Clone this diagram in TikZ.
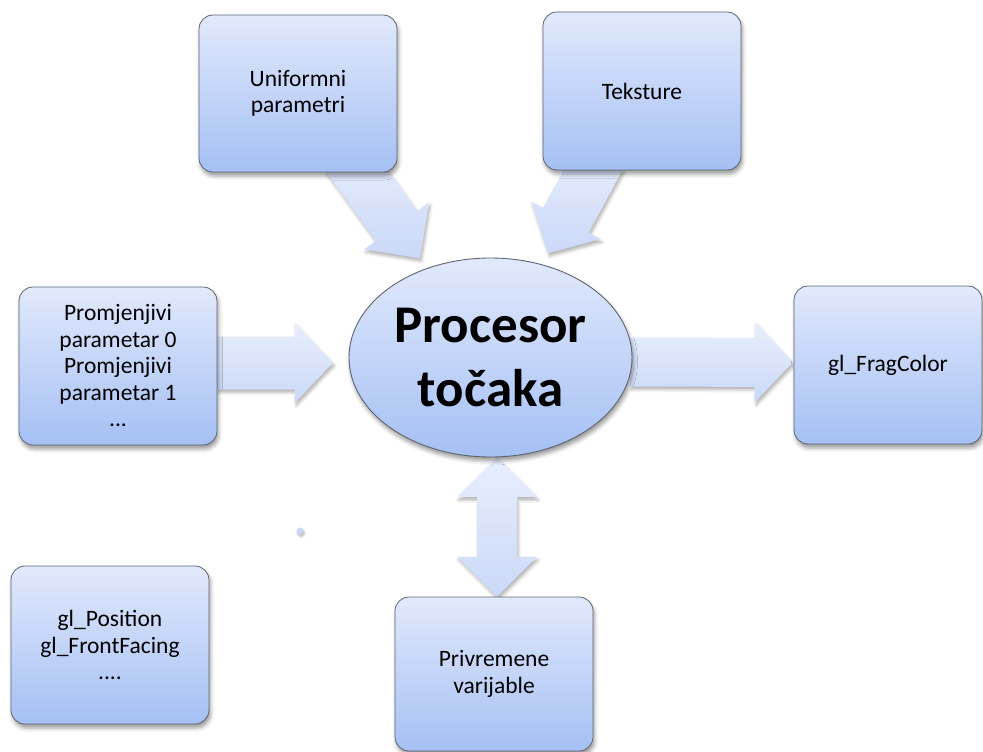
\documentclass[tikz,border=0pt]{standalone}
\usepackage{fontspec}
\setmainfont{Carlito}
\usetikzlibrary{calc,shapes.geometric,shadows.blur}

\definecolor{boxtop}{HTML}{E1E9FC}
\definecolor{boxbot}{HTML}{A5C0F4}
\definecolor{edgegray}{HTML}{5E6570}
\definecolor{arrtop}{HTML}{E8EEFD}
\definecolor{arrbot}{HTML}{CAD9F8}

\tikzset{
  softshadow/.style={blur shadow={shadow xshift=1.5pt, shadow yshift=-4pt,
      shadow blur radius=4pt, shadow opacity=40}},
  box/.style={draw=edgegray, line width=0.8pt, rounded corners=14pt,
      top color=boxtop, bottom color=boxbot, minimum width=198pt,
      minimum height=157pt, align=center, inner sep=2pt,
      font=\fontsize{23.5}{26.5}\selectfont, softshadow},
  procnode/.style={ellipse, draw=edgegray, line width=0.9pt,
      top color=boxtop, bottom color=boxbot, minimum width=283pt,
      minimum height=199pt, inner sep=0pt, align=center,
      font=\bfseries\fontsize{53}{64}\selectfont, softshadow},
  arrowfill/.style={draw=none, top color=arrtop, bottom color=arrbot,
      blur shadow={shadow xshift=1.5pt, shadow yshift=-3pt,
      shadow blur radius=3pt, shadow opacity=30}},
}

% block arrow: #1 tail, #2 tip, #3 shaft half width, #4 head half width, #5 head length
\newcommand{\blkarrow}[5]{%
  \coordinate (ab) at ($(#2)!#5!(#1)$);
  \path[arrowfill] ($(#1)!#3!90:(#2)$) -- ($(ab)!#3!90:(#2)$)
    -- ($(ab)!#4!90:(#2)$) -- (#2) -- ($(ab)!#4!-90:(#2)$)
    -- ($(ab)!#3!-90:(#2)$) -- ($(#1)!#3!-90:(#2)$) -- cycle;
}
% double headed block arrow between tips #1 and #2
\newcommand{\dblarrow}[5]{%
  \coordinate (da) at ($(#1)!#5!(#2)$);
  \coordinate (db) at ($(#2)!#5!(#1)$);
  \path[arrowfill] (#1) -- ($(da)!#4!90:(#1)$) -- ($(da)!#3!90:(#1)$)
    -- ($(db)!#3!-90:(#2)$) -- ($(db)!#4!-90:(#2)$) -- (#2)
    -- ($(db)!#4!90:(#2)$) -- ($(db)!#3!90:(#2)$)
    -- ($(da)!#3!-90:(#1)$) -- ($(da)!#4!-90:(#1)$) -- cycle;
}

\begin{document}
\begin{tikzpicture}[x=1pt,y=-1pt]
  \useasboundingbox (0,0) rectangle (983,752);

  % centres of the shapes
  \path
    (298,93.5)  coordinate (uniC)
    (642,91)    coordinate (texC)
    (118,366)   coordinate (promC)
    (888,365)   coordinate (fragC)
    (110,645)   coordinate (posC)
    (494,674)   coordinate (privC)
    (490.5,357.5) coordinate (procC);

  % invisible outlines used as anchors for the connectors
  \path
    (uniC)  node[minimum width=198pt, minimum height=157pt, inner sep=0pt] (uniA) {}
    (texC)  node[minimum width=198pt, minimum height=158pt, inner sep=0pt] (texA) {}
    (promC) node[minimum width=198pt, minimum height=158pt, inner sep=0pt] (promA) {}
    (fragC) node[minimum width=188pt, minimum height=158pt, inner sep=0pt] (fragA) {}
    (privC) node[minimum width=198pt, minimum height=154pt, inner sep=0pt] (privA) {}
    (procC) node[ellipse, minimum width=283pt, minimum height=199pt, inner sep=0pt] (procA) {};

  % connector end points
  \coordinate (t1) at ($(uniA.south)+(48,-16)$);
  \coordinate (h1) at ($(procA.north)+(-70.5,0.5)$);
  \coordinate (t2) at ($(texA.south)+(-42,-13)$);
  \coordinate (h2) at ($(procA.north)+(57.5,-4.5)$);
  \coordinate (t3) at ($(promA.east)+(0,-3)$);
  \coordinate (h3) at ($(procA.west)+(-16,5.5)$);
  \coordinate (t4) at ($(procA.east)+(-2,4.5)$);
  \coordinate (h4) at ($(fragA.west)+(-1,-2.5)$);
  \coordinate (d1) at ($(procA.south)+(6.5,0)$);
  \coordinate (d2) at ($(privA.north)+(3,0)$);

  % block arrows (behind the boxes)
  \blkarrow{t1}{h1}{25.5pt}{40pt}{40pt}
  \blkarrow{t2}{h2}{26pt}{39.5pt}{37.5pt}
  \blkarrow{t3}{h3}{26.5pt}{40pt}{38pt}
  \blkarrow{t4}{h4}{24.5pt}{40pt}{38pt}
  \dblarrow{d1}{d2}{20pt}{40pt}{40pt}

  % small stray mark
  \fill[boxtop!60!boxbot, blur shadow={shadow xshift=1pt, shadow yshift=-2pt,
      shadow blur radius=2pt, shadow opacity=30}] (300,531) circle (3.5pt);

  % boxes
  \node[box] (uni) at (uniC) {Uniformni\\parametri};
  \node[box, minimum height=158pt] (tex) at (texC) {Teksture};
  \node[box, minimum height=158pt] (prom) at (promC)
    {Promjenjivi\\parametar 0\\Promjenjivi\\parametar 1\\...};
  \node[box, minimum width=188pt, minimum height=158pt] (frag) at (fragC) {gl\_FragColor};
  \node[box, minimum height=158pt] (pos) at (posC)
    {gl\_Position\\gl\_FrontFacing\\....};
  \node[box, minimum height=154pt] (priv) at (privC) {Privremene\\varijable};

  % central processor
  \node[procnode] (proc) at (procC) {Procesor\\točaka};
\end{tikzpicture}
\end{document}
